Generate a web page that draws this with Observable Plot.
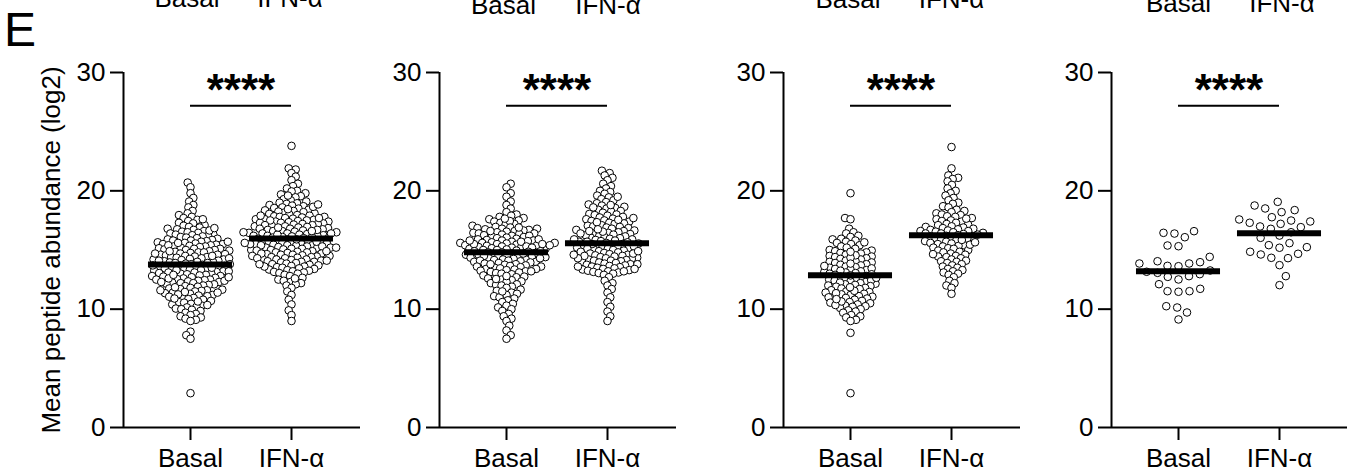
<!DOCTYPE html>
<html><head><meta charset="utf-8">
<script src="https://cdn.jsdelivr.net/npm/d3@7"></script>
<script src="https://cdn.jsdelivr.net/npm/@observablehq/plot@0.6"></script>
<style>
body{margin:0;background:#fff}
#fig{position:relative;width:1347px;height:475px;overflow:hidden;background:#fff;font-family:"Liberation Sans",Arial,sans-serif}
#fig svg.panel{position:absolute;top:0}
#fig svg.panel g[aria-label="x-axis tick label"],
#fig svg.panel g[aria-label="y-axis tick label"]{font-size:26px}
</style></head><body><div id="fig"></div>
<script>
// ---------- text ----------
const groups = ["Basal", "IFN-α"];
const yTicks = [0, 10, 20, 30];
const yLabel = "Mean peptide abundance (log2)";
const significance = "****";
const panelLetter = "E";
const sigLevel = 27.2;

// ---------- data ----------
const p1Basal = [20.7,20.3,19.8,19.4,19.1,18.8,18.6,18.3,18.1,
17.95,17.8,17.7,17.55,17.45,17.3,17.25,17.1,17.05,17.6,
16.95,16.9,16.8,16.75,16.7,16.6,16.55,16.5,16.45,16.4,16.3,16.3,16.25,16.2,16.15,16.1,16.05,16.0,16.65,16.85,
15.95,15.9,15.85,15.8,15.8,15.75,15.7,15.65,15.6,15.55,15.5,15.5,15.45,15.4,15.35,15.3,15.3,15.25,15.2,15.15,15.1,15.1,15.05,15.0,15.0,15.6,15.4,15.7,
14.95,14.9,14.85,14.8,14.8,14.75,14.7,14.65,14.6,14.6,14.55,14.5,14.45,14.4,14.4,14.35,14.3,14.25,14.2,14.2,14.15,14.1,14.05,14.0,14.0,14.7,14.5,14.3,14.1,14.9,
13.95,13.9,13.85,13.8,13.8,13.75,13.7,13.65,13.6,13.6,13.55,13.5,13.45,13.4,13.4,13.35,13.3,13.25,13.2,13.2,13.15,13.1,13.05,13.0,13.0,13.7,13.5,13.3,13.1,13.9,
12.95,12.9,12.85,12.8,12.75,12.7,12.65,12.6,12.55,12.5,12.45,12.4,12.35,12.3,12.25,12.2,12.15,12.1,12.05,12.0,12.8,12.6,12.4,12.2,12.9,12.5,12.3,12.7,
11.95,11.9,11.8,11.75,11.7,11.6,11.55,11.5,11.4,11.35,11.3,11.2,11.15,11.1,11.0,11.05,11.45,11.65,11.85,11.25,11.6,11.4,
10.95,10.85,10.8,10.7,10.6,10.55,10.45,10.4,10.3,10.2,10.15,10.05,10.0,10.65,10.35,10.9,
9.95,9.85,9.7,9.6,9.5,9.4,9.3,9.2,9.1,9.0,
8.1,7.8,7.5,2.9];
const p1Ifn = [23.8,21.9,21.8,21.5,21.2,20.9,20.6,20.4,20.2,20.0,
19.95,19.8,19.7,19.55,19.45,19.3,19.2,19.1,19.0,19.6,
18.95,18.9,18.8,18.75,18.7,18.6,18.55,18.5,18.4,18.35,18.3,18.2,18.15,18.1,18.0,18.05,18.45,18.65,18.85,18.25,
17.95,17.9,17.85,17.8,17.8,17.75,17.7,17.65,17.6,17.6,17.55,17.5,17.45,17.4,17.4,17.35,17.3,17.25,17.2,17.2,17.15,17.1,17.05,17.0,17.0,17.7,17.5,17.3,17.1,17.9,
16.95,16.9,16.85,16.8,16.8,16.75,16.7,16.65,16.6,16.6,16.55,16.5,16.45,16.4,16.4,16.35,16.3,16.25,16.2,16.2,16.15,16.1,16.05,16.0,16.0,16.7,16.5,16.3,16.1,16.9,16.6,16.4,16.2,
15.95,15.9,15.85,15.8,15.8,15.75,15.7,15.65,15.6,15.6,15.55,15.5,15.45,15.4,15.4,15.35,15.3,15.25,15.2,15.2,15.15,15.1,15.05,15.0,15.0,15.7,15.5,15.3,15.1,15.9,15.6,15.4,15.2,
14.95,14.9,14.85,14.8,14.8,14.75,14.7,14.65,14.6,14.6,14.55,14.5,14.45,14.4,14.4,14.35,14.3,14.25,14.2,14.2,14.15,14.1,14.05,14.0,14.0,14.7,14.5,14.3,14.1,14.9,
13.95,13.9,13.85,13.8,13.75,13.7,13.65,13.6,13.55,13.5,13.45,13.4,13.35,13.3,13.25,13.2,13.15,13.1,13.05,13.0,13.6,13.8,
12.9,12.8,12.65,12.5,12.4,12.3,12.2,12.1,12.0,12.6,
11.8,11.5,11.2,10.8,10.4,9.9,9.5,9.0];
const p2Basal = [20.6,20.3,19.8,19.5,19.1,18.8,18.5,18.2,18.0,
17.9,17.8,17.7,17.6,17.5,17.4,17.3,17.2,17.15,17.05,17.45,17.65,
16.95,16.9,16.85,16.8,16.75,16.7,16.65,16.6,16.55,16.5,16.45,16.4,16.35,16.3,16.25,16.2,16.15,16.1,16.05,16.0,16.8,16.6,16.4,16.2,16.9,
15.95,15.9,15.85,15.8,15.8,15.75,15.7,15.65,15.6,15.6,15.55,15.5,15.45,15.4,15.4,15.35,15.3,15.25,15.2,15.2,15.15,15.1,15.05,15.0,15.0,15.7,15.5,15.3,15.1,15.9,15.6,15.4,15.2,15.8,15.5,
14.95,14.9,14.85,14.8,14.8,14.75,14.7,14.65,14.6,14.6,14.55,14.5,14.45,14.4,14.4,14.35,14.3,14.25,14.2,14.2,14.15,14.1,14.05,14.0,14.0,14.7,14.5,14.3,14.1,14.9,
13.95,13.9,13.85,13.8,13.75,13.7,13.65,13.6,13.55,13.5,13.45,13.4,13.35,13.3,13.25,13.2,13.15,13.1,13.05,13.0,13.6,13.8,13.4,13.2,
12.95,12.85,12.75,12.7,12.6,12.5,12.45,12.35,12.3,12.2,12.1,12.05,12.0,12.55,12.8,
11.9,11.8,11.65,11.55,11.4,11.3,11.2,11.1,11.0,11.5,
10.9,10.75,10.6,10.45,10.3,10.15,10.0,
9.85,9.6,9.4,9.2,9.0,8.6,8.2,7.8,7.5];
const p2Ifn = [21.7,21.5,21.3,21.1,20.9,20.6,20.4,20.2,20.0,
19.9,19.75,19.6,19.45,19.3,19.2,19.05,19.5,
18.95,18.85,18.75,18.65,18.55,18.5,18.4,18.3,18.25,18.15,18.05,18.0,18.6,18.8,
17.95,17.9,17.8,17.75,17.65,17.6,17.5,17.45,17.4,17.3,17.25,17.2,17.1,17.05,17.0,17.55,17.7,17.35,
16.95,16.9,16.85,16.8,16.7,16.65,16.6,16.5,16.45,16.4,16.35,16.3,16.2,16.15,16.1,16.05,16.0,16.55,16.75,16.25,16.6,16.4,
15.95,15.9,15.85,15.8,15.75,15.7,15.65,15.6,15.55,15.5,15.45,15.4,15.35,15.3,15.25,15.2,15.15,15.1,15.05,15.0,15.7,15.5,15.3,15.1,15.9,
14.95,14.9,14.85,14.8,14.75,14.7,14.65,14.6,14.55,14.5,14.45,14.4,14.35,14.3,14.25,14.2,14.15,14.1,14.05,14.0,14.7,14.5,14.3,14.1,14.9,14.6,
13.95,13.9,13.85,13.8,13.75,13.7,13.65,13.6,13.55,13.5,13.45,13.4,13.35,13.3,13.25,13.2,13.15,13.1,13.05,13.0,13.6,13.8,13.4,13.2,
12.9,12.7,12.4,12.2,12.0,11.7,11.4,11.0,10.6,10.2,9.8,9.4,9.0];
const p3Basal = [19.8,17.7,17.6,
16.8,16.5,16.4,16.2,16.1,
15.95,15.9,15.8,15.7,15.6,15.5,15.4,15.3,15.2,15.1,15.0,15.65,
14.95,14.9,14.8,14.75,14.7,14.6,14.5,14.45,14.4,14.3,14.25,14.2,14.1,14.05,14.0,14.55,14.35,14.85,
13.95,13.9,13.8,13.75,13.7,13.6,13.55,13.5,13.4,13.35,13.3,13.2,13.15,13.1,13.0,13.05,13.45,13.65,13.85,13.25,
12.95,12.9,12.8,12.75,12.7,12.6,12.55,12.5,12.4,12.35,12.3,12.2,12.15,12.1,12.0,12.05,12.45,12.65,12.85,12.25,
11.95,11.9,11.8,11.75,11.7,11.6,11.5,11.45,11.4,11.3,11.25,11.2,11.1,11.05,11.0,11.55,11.35,11.85,
10.95,10.9,10.8,10.7,10.6,10.55,10.5,10.4,10.3,10.25,10.2,10.1,10.0,10.65,10.35,10.85,
9.9,9.8,9.7,9.5,9.4,9.3,9.1,9.0,8.0,2.9];
const p3Ifn = [23.7,21.9,21.3,21.1,21.0,20.8,20.5,20.2,20.0,
19.8,19.6,19.4,19.2,19.0,
18.9,18.7,18.6,18.4,18.3,18.2,18.1,18.0,
17.95,17.85,17.8,17.7,17.6,17.5,17.45,17.4,17.3,17.2,17.15,17.1,17.0,17.65,
16.95,16.9,16.85,16.8,16.75,16.7,16.65,16.6,16.55,16.5,16.45,16.4,16.35,16.3,16.25,16.2,16.15,16.1,16.05,16.0,16.6,16.4,
15.95,15.9,15.8,15.75,15.7,15.6,15.55,15.5,15.4,15.35,15.3,15.2,15.15,15.1,15.0,15.45,15.65,15.85,
14.95,14.85,14.8,14.7,14.6,14.5,14.45,14.4,14.3,14.2,14.1,14.05,14.0,14.65,
13.9,13.8,13.7,13.6,13.5,13.4,13.3,13.2,13.1,13.0,
12.9,12.7,12.4,12.2,12.0,11.8,11.3];
const p4Basal = [16.59,16.45,16.08,16.39,15.32,15.38,14.42,13.66,13.86,14.05,13.97,13.86,13.63,12.73,13.07,13.27,12.96,13.16,12.79,12.51,12.11,11.52,11.47,11.72,11.52,10.14,9.72,10.25,9.13];
const p4Ifn = [18.76,18.51,19.07,18.37,18.2,17.49,17.21,17.58,17.3,17.77,17.41,16.79,16.99,16.93,16.5,16.22,16.03,15.58,15.19,15.24,15.41,14.62,14.85,14.68,14.34,14.31,13.72,12.79,12.03];
const p1Median = [13.77, 15.97];
const p2Median = [14.82, 15.58];
const p3Median = [12.87, 16.25];
const p4Median = [13.2, 16.42];
// previous row's x labels, cut by the top edge
const topLabels = groups;

// ---------- layout ----------
const FONT = '"Liberation Sans", Arial, sans-serif';
const FS = 26;
const W = 237, H = 475, MT = 72, MB = 48;
const pxPerX = 101;
const xDomain = [-67 / pxPerX, (W - 67) / pxPerX];
const pxPerY = (H - MT - MB) / 30;

const panels = [
  {basal: p1Basal, ifn: p1Ifn, med: p1Median, left: 0, ml: 123, sep: 5.5, label: true, topY: 7},
  {basal: p2Basal, ifn: p2Ifn, med: p2Median, left: 379, ml: 60, sep: 5.5, topY: 14},
  {basal: p3Basal, ifn: p3Ifn, med: p3Median, left: 723, ml: 60, sep: 5.6, topY: 8},
  {basal: p4Basal, ifn: p4Ifn, med: p4Median, left: 1051, ml: 60, sep: 11, topY: 12}
];

// beeswarm offsets (pixels) computed from the values
function swarm(values, sep) {
  const idx = d3.range(values.length).sort((a, b) => values[a] - values[b]);
  const placed = [];
  const out = new Array(values.length);
  let flip = 1;
  for (const i of idx) {
    const y = values[i] * pxPerY;
    const cands = [0];
    for (const p of placed) {
      const dy = Math.abs(p.y - y);
      if (dy < sep) {
        const dx = Math.sqrt(sep * sep - dy * dy);
        cands.push(p.x - dx, p.x + dx);
      }
    }
    cands.sort((a, b) => (Math.abs(a) - Math.abs(b)) || flip * (a - b));
    flip = -flip;
    for (const c of cands) {
      if (placed.every(p => (p.x - c) ** 2 + (p.y - y) ** 2 >= sep * sep - 1e-6)) {
        out[i] = c; placed.push({x: c, y}); break;
      }
    }
  }
  return out;
}

const fig = d3.select("#fig");

panels.forEach(cfg => {
  const rows = [];
  [cfg.basal, cfg.ifn].forEach((vals, g) => {
    const offs = swarm(vals, cfg.sep);
    vals.forEach((v, i) => rows.push({g, v, x: g + offs[i] / pxPerX}));
  });
  const meds = cfg.med.map((m, g) => ({g, m}));
  const mr = 8;
  const svg = Plot.plot({
    width: cfg.ml + W + mr, height: H,
    marginLeft: cfg.ml, marginRight: mr, marginTop: MT, marginBottom: MB,
    style: {fontFamily: FONT, fontSize: FS + "px", color: "#000", background: "transparent", overflow: "visible"},
    x: {domain: xDomain},
    y: {domain: [0, 30]},
    marks: [
      Plot.axisY({ticks: yTicks, tickSize: 13, tickPadding: 5, strokeWidth: 2, fontSize: FS, label: null}),
      Plot.axisX({ticks: [0, 1], tickFormat: i => groups[i], tickSize: 13, tickPadding: 8, strokeWidth: 2, fontSize: FS, label: null}),
      Plot.ruleY([0], {strokeWidth: 2}),
      Plot.ruleX([xDomain[0]], {y1: 0, y2: 30, strokeWidth: 2}),
      Plot.dot(rows, {x: "x", y: "v", r: 3.8, fill: "white", stroke: "black", strokeWidth: 1}),
      Plot.ruleY(meds, {x1: d => d.g - 0.416, x2: d => d.g + 0.416, y: "m", strokeWidth: 6}),
      Plot.ruleY([sigLevel], {x1: 0, x2: 1, strokeWidth: 2}),
      Plot.text([significance], {x: 0.5, y: sigLevel, text: d => d, fontSize: 44, fontWeight: "bold", lineAnchor: "bottom", dy: -1}),
      cfg.label ? Plot.text([yLabel], {frameAnchor: "left", textAnchor: "middle", lineAnchor: "middle", rotate: -90, dx: -72, fontSize: FS, text: d => d}) : null
    ]
  });
  svg.classList.add("panel");
  svg.style.left = cfg.left + "px";
  svg.style.position = "absolute";
  svg.style.top = "0px";
  fig.node().appendChild(svg);
});

// overlay: panel letter and the previous row's cut labels
const ov = fig.append("svg").attr("width", 1347).attr("height", 475)
  .style("position", "absolute").style("left", 0).style("top", 0)
  .style("font-family", FONT);
ov.append("text").attr("x", 4).attr("y", 46).attr("font-size", 48).text(panelLetter);
const topCenters = [[187, 290], [503.5, 608], [848, 951.5], [1178.5, 1282]];
panels.forEach((cfg, k) => {
  topLabels.forEach((t, g) => {
    ov.append("text").attr("x", topCenters[k][g]).attr("y", cfg.topY)
      .attr("text-anchor", "middle").attr("font-size", FS).text(t);
  });
});
</script></body></html>
